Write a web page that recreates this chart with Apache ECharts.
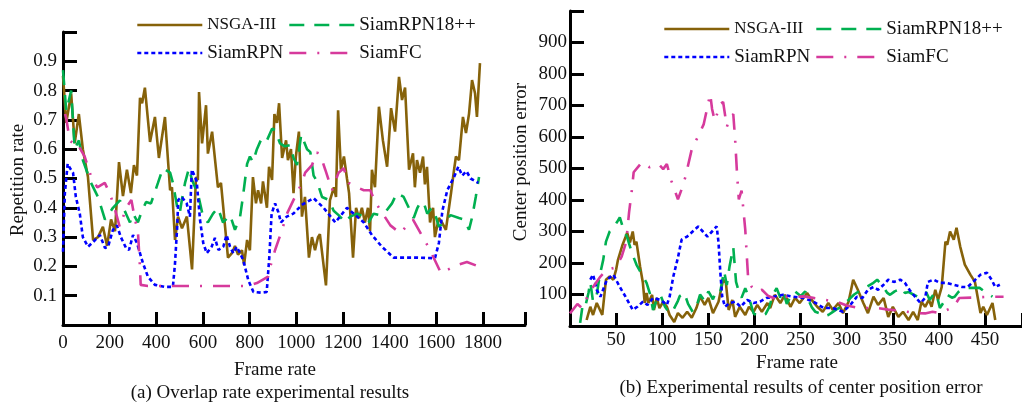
<!DOCTYPE html>
<html>
<head>
<meta charset="utf-8">
<script src="https://cdn.jsdelivr.net/npm/echarts@6/dist/echarts.min.js"></script>
<style>
  html, body { margin: 0; padding: 0; background: #fff; }
  #main { width: 1022px; height: 403px; }
  #err { position: absolute; left: 600px; top: 200px; font: 11px monospace; color: red; }
</style>
</head>
<body>
<div id="main"></div>
<div id="err"></div>
<script>
// 数据：[帧, 值]

// (a) 重叠率
const overlapNsga = [
  [0,0.85],[14,0.69],[35,0.79],[50,0.62],[68,0.72],[85,0.60],[107,0.505],[129,0.29],[150,0.30],[171,0.335],
  [189,0.27],[206,0.36],[223,0.32],[240,0.556],[257,0.44],[274,0.53],[291,0.45],[304,0.546],[317,0.51],[330,0.775],
  [339,0.757],[351,0.81],[373,0.625],[394,0.71],[411,0.57],[437,0.71],[459,0.46],[467,0.47],[480,0.29],[493,0.37],
  [510,0.33],[531,0.37],[553,0.19],[570,0.505],[578,0.495],[583,0.795],[596,0.62],[613,0.75],[621,0.585],[639,0.66],
  [664,0.47],[677,0.485],[707,0.23],[724,0.245],[737,0.27],[750,0.24],[767,0.255],[776,0.205],[789,0.29],[801,0.255],
  [814,0.505],[827,0.415],[836,0.46],[849,0.415],[857,0.49],[874,0.40],[883,0.54],[896,0.495],[906,0.72],[917,0.69],
  [926,0.757],[939,0.57],[956,0.63],[964,0.563],[977,0.60],[988,0.45],[998,0.575],[1011,0.66],[1024,0.37],[1037,0.437],
  [1054,0.23],[1067,0.30],[1080,0.255],[1093,0.30],[1101,0.31],[1127,0.135],[1144,0.425],[1161,0.47],[1170,0.437],[1179,0.733],
  [1191,0.53],[1204,0.575],[1217,0.50],[1226,0.45],[1243,0.23],[1256,0.40],[1269,0.365],[1281,0.40],[1294,0.35],[1307,0.40],
  [1316,0.32],[1324,0.53],[1337,0.47],[1354,0.745],[1371,0.63],[1389,0.54],[1406,0.74],[1423,0.66],[1440,0.847],[1453,0.768],
  [1466,0.81],[1483,0.53],[1500,0.586],[1508,0.47],[1517,0.563],[1530,0.52],[1543,0.575],[1551,0.48],[1560,0.54],[1573,0.35],
  [1586,0.40],[1594,0.30],[1611,0.365],[1624,0.35],[1641,0.325],[1663,0.45],[1676,0.53],[1684,0.575],[1697,0.563],[1714,0.71],
  [1727,0.655],[1740,0.72],[1753,0.836],[1766,0.79],[1774,0.71],[1787,0.894]
];
const overlapRpn18 = [
  [0,0.87],[14,0.73],[35,0.80],[50,0.60],[68,0.63],[85,0.563],[120,0.485],[150,0.437],[180,0.36],[214,0.40],
  [244,0.425],[270,0.38],[287,0.35],[300,0.38],[321,0.35],[334,0.38],[356,0.42],[377,0.415],[407,0.485],[428,0.535],
  [459,0.52],[471,0.485],[490,0.40],[500,0.38],[510,0.43],[523,0.485],[540,0.535],[553,0.495],[566,0.47],[578,0.45],
  [600,0.37],[621,0.35],[643,0.38],[664,0.40],[686,0.35],[716,0.375],[737,0.325],[759,0.37],[771,0.437],[789,0.55],
  [801,0.575],[814,0.556],[831,0.60],[853,0.64],[874,0.63],[896,0.67],[909,0.665],[930,0.62],[951,0.61],[973,0.614],
  [988,0.57],[1003,0.546],[1021,0.65],[1031,0.63],[1046,0.60],[1060,0.59],[1074,0.51],[1089,0.49],[1110,0.437],[1139,0.427],
  [1160,0.39],[1181,0.375],[1210,0.35],[1231,0.37],[1260,0.38],[1289,0.37],[1310,0.35],[1331,0.38],[1360,0.375],[1381,0.385],
  [1410,0.415],[1431,0.45],[1460,0.437],[1482,0.40],[1503,0.365],[1519,0.40],[1533,0.42],[1547,0.415],[1561,0.38],[1580,0.40],
  [1594,0.38],[1611,0.335],[1633,0.35],[1661,0.375],[1697,0.365],[1719,0.36],[1740,0.325],[1754,0.37],[1769,0.437],[1783,0.505]
];
const overlapRpn = [
  [0,0.25],[8,0.45],[20,0.55],[30,0.535],[43,0.52],[55,0.437],[72,0.38],[85,0.30],[107,0.267],[129,0.283],
  [158,0.307],[180,0.263],[193,0.267],[214,0.325],[231,0.34],[248,0.30],[270,0.263],[283,0.256],[300,0.307],[317,0.28],
  [343,0.21],[364,0.165],[394,0.137],[437,0.13],[471,0.13],[480,0.21],[489,0.33],[494,0.427],[509,0.437],[530,0.415],
  [544,0.37],[552,0.53],[566,0.505],[573,0.49],[587,0.36],[601,0.28],[616,0.245],[637,0.267],[651,0.297],[666,0.256],
  [687,0.267],[701,0.307],[716,0.267],[730,0.245],[744,0.267],[759,0.245],[773,0.22],[794,0.153],[816,0.113],[852,0.11],
  [873,0.113],[884,0.23],[894,0.38],[909,0.415],[923,0.385],[934,0.35],[959,0.37],[987,0.38],[1024,0.41],[1074,0.433],
  [1117,0.40],[1167,0.35],[1217,0.40],[1253,0.375],[1289,0.35],[1324,0.307],[1367,0.267],[1417,0.23],[1517,0.23],[1594,0.228],
  [1611,0.28],[1626,0.39],[1647,0.46],[1676,0.505],[1694,0.54],[1711,0.51],[1729,0.525],[1747,0.50],[1769,0.49],[1780,0.485]
];
const overlapFc = [
  [9,0.72],[14,0.705],[29,0.63],[43,0.62],[57,0.625],[93,0.575],[121,0.505],[147,0.47],[179,0.485],[200,0.45],
  [221,0.40],[243,0.335],[271,0.40],[293,0.427],[307,0.365],[321,0.32],[329,0.21],[333,0.137],[364,0.133],[789,0.133],
  [831,0.143],[879,0.165],[887,0.195],[909,0.256],[939,0.325],[960,0.38],[994,0.437],[1024,0.485],[1038,0.52],[1067,0.546],
  [1089,0.59],[1110,0.563],[1124,0.53],[1153,0.46],[1181,0.52],[1203,0.535],[1224,0.485],[1260,0.47],[1289,0.46],[1317,0.46],
  [1338,0.42],[1403,0.34],[1446,0.313],[1475,0.34],[1500,0.36],[1573,0.256],[1620,0.177],[1689,0.205],[1731,0.215],[1787,0.198]
];

// (b) 中心位置误差
const errorNsga = [
  [18,19],[22,61],[25,35],[29,73],[35,35],[39,147],[43,157],[47,147],[50,179],[52,210],
  [57,258],[62,296],[65,265],[68,300],[70,258],[72,268],[76,188],[79,137],[81,73],[83,105],
  [85,73],[89,99],[91,51],[94,89],[97,57],[101,77],[105,61],[108,35],[113,13],[117,41],
  [122,26],[127,45],[132,26],[137,57],[141,93],[146,67],[150,89],[155,41],[161,77],[166,147],
  [169,137],[172,51],[176,83],[179,29],[184,61],[190,35],[194,61],[199,45],[203,67],[208,45],
  [214,73],[217,57],[222,99],[228,73],[233,99],[239,61],[244,89],[249,73],[257,105],[262,83],
  [268,61],[274,45],[280,73],[285,51],[291,73],[296,41],[302,77],[307,147],[312,115],[318,73],
  [323,41],[329,93],[334,67],[340,89],[345,29],[350,61],[356,29],[361,45],[367,19],[372,45],
  [377,19],[381,77],[385,61],[389,83],[392,61],[396,115],[399,83],[403,124],[407,268],[409,258],
  [412,300],[416,274],[419,312],[423,252],[428,195],[431,179],[434,163],[439,140],[445,41],[448,61],
  [452,35],[458,73],[461,19]
];
const errorRpn18 = [
  [11,10],[14,73],[17,67],[20,105],[22,140],[25,77],[29,99],[32,157],[36,210],[39,268],
  [43,300],[47,312],[51,330],[54,345],[58,306],[62,281],[67,233],[72,195],[78,163],[83,137],
  [87,99],[90,51],[94,83],[98,99],[103,61],[108,41],[112,51],[117,80],[119,95],[124,105],
  [128,70],[133,45],[137,60],[141,100],[146,80],[150,110],[155,85],[159,115],[163,110],[167,175],
  [170,130],[173,190],[177,250],[180,140],[183,110],[186,90],[190,120],[194,90],[199,40],[204,30],
  [208,32],[212,38],[216,60],[220,100],[224,120],[228,90],[231,110],[235,70],[240,100],[244,110],
  [250,95],[255,110],[259,80],[262,60],[266,45],[270,41],[275,30],[280,35],[285,45],[290,55],
  [295,61],[299,75],[302,83],[308,100],[316,115],[322,125],[328,135],[333,147],[338,130],[344,105],
  [347,99],[352,110],[356,115],[360,121],[363,105],[367,108],[372,100],[377,93],[382,100],[386,108],
  [390,83],[394,100],[397,105],[401,57],[405,75],[409,99],[414,90],[417,93],[421,108],[425,115],
  [430,121],[436,121],[444,121],[450,108],[458,93]
];
const errorRpn = [
  [22,147],[25,163],[27,140],[29,115],[33,93],[40,147],[47,163],[54,124],[61,89],[68,51],
  [73,61],[79,77],[84,67],[90,89],[98,83],[105,67],[108,93],[112,157],[117,217],[121,274],
  [127,284],[133,300],[139,316],[144,300],[149,284],[154,300],[159,316],[161,265],[163,169],[165,93],
  [168,61],[173,73],[179,77],[185,61],[192,83],[199,73],[206,77],[213,89],[221,93],[231,99],
  [242,93],[253,89],[264,77],[275,57],[285,57],[296,45],[304,67],[311,93],[317,89],[323,115],
  [329,124],[334,115],[340,131],[345,147],[351,140],[358,147],[363,137],[368,115],[374,93],[380,73],
  [385,89],[388,140],[394,147],[401,137],[408,137],[416,131],[425,124],[431,124],[437,140],[445,163],
  [452,169],[457,147],[461,124],[466,131]
];
const errorFc = [
  [0,40],[8,70],[13,57],[20,100],[25,124],[33,157],[40,179],[49,185],[56,220],[61,268],
  [64,360],[67,430],[69,488],[78,520],[86,504],[96,514],[101,498],[105,514],[110,460],[117,402],
  [121,434],[125,472],[132,561],[139,603],[145,641],[152,737],[154,689],[157,651],[163,705],[166,711],
  [170,632],[173,657],[177,673],[179,593],[181,488],[183,402],[186,430],[190,306],[193,157],[197,124],
  [203,108],[208,115],[215,95],[224,85],[232,93],[244,93],[253,94],[262,90],[273,85],[282,80],
  [291,75],[300,65],[314,57],[333,57],[345,52],[360,48],[374,41],[385,40],[393,45],[400,41],
  [408,50],[416,61],[422,89],[435,90],[455,93],[470,93]
];

// 坐标轴范围：[最大值, 间隔, 最小标签, 最大标签]
const overlapXRange = [1980, 200, 0, 1800];
const overlapYRange = [1.0, 0.1, 0.1, 0.9];
const errorXRange = [490, 50, 50, 450];
const errorYRange = [1000, 100, 100, 900];

const FONT = 'Liberation Serif';
const INK = '#111';
const colors = { 'NSGA-III': '#86620a', 'SiamRPN18++': '#00b050', 'SiamRPN': '#0000ff', 'SiamFC': '#d63a9c' };
const dashes = { 'NSGA-III': 'solid', 'SiamRPN18++': [15, 10], 'SiamRPN': [4, 3], 'SiamFC': [17, 11, 2, 11] };

function makeAxis(gridIndex, range, margin, tickLen) {
    const [max, step, lo, hi] = range;
    return {
        type: 'value', gridIndex: gridIndex, min: 0, max: max, interval: step,
        splitLine: { show: false },
        axisLine: { show: true, onZero: false, lineStyle: { color: '#000', width: 3 } },
        axisTick: { show: true, inside: true, length: tickLen, lineStyle: { color: '#000', width: 3 } },
        axisLabel: {
            show: true, margin: margin, showMaxLabel: true, showMinLabel: true,
            formatter: v => (v >= lo - step / 10 && v <= hi + step / 10) ? String(+v.toFixed(2)) : '',
            fontFamily: FONT, fontSize: 19, color: INK
        }
    };
}
function makeLine(name, data, idx) {
    return {
        name: name, type: 'line', xAxisIndex: idx, yAxisIndex: idx,
        data: data, symbol: 'none', showSymbol: false,
        lineStyle: { color: colors[name], width: 2.6, type: dashes[name] },
        itemStyle: { color: colors[name] }
    };
}
function makeLegend(left, top, names) {
    return {
        orient: 'vertical', left: left, top: top, itemWidth: 65, itemHeight: 14,
        itemGap: 8, selectedMode: false, data: names,
        itemStyle: { opacity: 0 },
        lineStyle: { width: 2.6 },
        formatter: n => n === 'NSGA-III' ? '{s|' + n + '}' : n,
        textStyle: { fontFamily: FONT, fontSize: 19, color: INK, lineHeight: 20,
            rich: { s: { fontFamily: FONT, fontSize: 17, color: INK, lineHeight: 20 } } }
    };
}
function makeText(text, x, y, rotate) {
    return {
        type: 'text', x: x, y: y, rotation: rotate ? Math.PI / 2 : 0,
        style: { text: text, fontFamily: FONT, fontSize: 19, fill: INK, align: 'center', verticalAlign: 'middle' }
    };
}

try {
    const chart = echarts.init(document.getElementById('main'));
    chart.setOption({
        backgroundColor: '#fff',
        animation: false,
        grid: [
            { left: 63, top: 32, width: 462, height: 293, outerBoundsMode: 'none' },
            { left: 570, top: 11, width: 452, height: 315, outerBoundsMode: 'none' }
        ],
        xAxis: [makeAxis(0, overlapXRange, 9, 13), makeAxis(1, errorXRange, 5, 13)],
        yAxis: [makeAxis(0, overlapYRange, 6, 14), makeAxis(1, errorYRange, 3, 14)],
        legend: [
            makeLegend(131, 10, ['NSGA-III', 'SiamRPN']),
            makeLegend(283, 10, ['SiamRPN18++', 'SiamFC']),
            makeLegend(658, 14, ['NSGA-III', 'SiamRPN']),
            makeLegend(810, 14, ['SiamRPN18++', 'SiamFC'])
        ],
        graphic: [
            makeText('Repetition rate', 18, 180, true),
            makeText('Frame rate', 275, 370),
            makeText('(a) Overlap rate experimental results', 270, 393),
            makeText('Center position error', 521, 162, true),
            makeText('Frame rate', 797, 363),
            makeText('(b) Experimental results of center position error', 801, 388)
        ],
        series: [
            makeLine('NSGA-III', overlapNsga, 0),
            makeLine('SiamRPN18++', overlapRpn18, 0),
            makeLine('SiamRPN', overlapRpn, 0),
            makeLine('SiamFC', overlapFc, 0),
            makeLine('NSGA-III', errorNsga, 1),
            makeLine('SiamRPN18++', errorRpn18, 1),
            makeLine('SiamRPN', errorRpn, 1),
            makeLine('SiamFC', errorFc, 1)
        ]
    });
} catch (e) {
    document.getElementById('err').textContent = 'ERR: ' + e.message;
}
</script>
</body>
</html>
